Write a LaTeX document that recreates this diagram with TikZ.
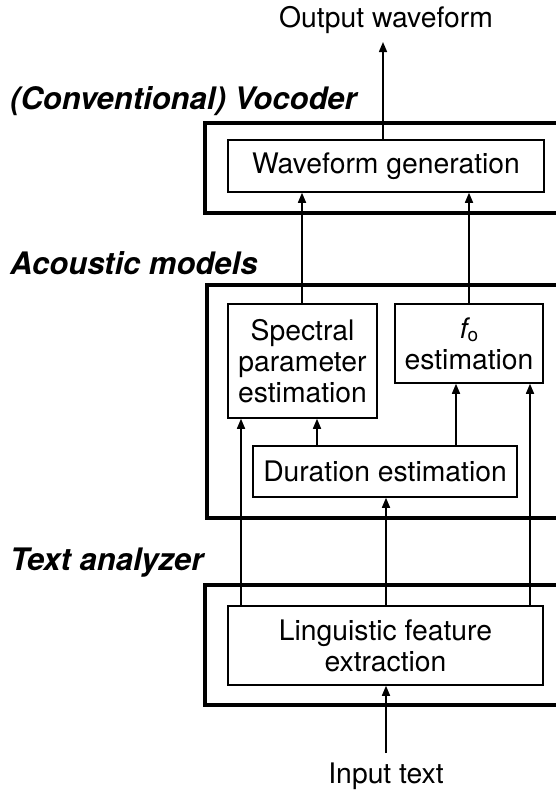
\documentclass[tikz,border=0pt]{standalone}
\usepackage{fontspec}
\setmainfont{TeX Gyre Heros}
\usetikzlibrary{arrows.meta}
\begin{document}
\begin{tikzpicture}[x=1pt,y=-1pt,
  box/.style={draw, line width=1.5pt, inner sep=0pt, align=center,
    font=\fontsize{28.3}{31}\selectfont},
  frame/.style={line width=3.2pt, line join=miter},
  arr/.style={line width=1.5pt, -{Triangle[length=10pt,width=8pt]}},
  title/.style={anchor=west, inner sep=0pt,
    font=\fontsize{31}{36}\selectfont\bfseries\itshape},
  lbl/.style={inner sep=0pt, font=\fontsize{28.3}{33}\selectfont}]
\useasboundingbox (0,0) rectangle (555,793);

% group frames, open on the right
\draw[frame] (556,123) -- (205,123) -- (205,213) -- (556,213);
\draw[frame] (556,285) -- (207,285) -- (207,518) -- (556,518);
\draw[frame] (556,585) -- (205,585) -- (205,705) -- (556,705);

% group titles
\node[title] (tvoc) at (10,101) {(Conventional) Vocoder};
\node[title] (tac)  at (10,263) {Acoustic models};
\node[title] (tta)  at (10,563) {Text analyzer};

% processing blocks
\node[box, minimum width=316pt, minimum height=52pt] (wave) at (386,166) {Waveform generation};
\node[box, minimum width=149pt, minimum height=114pt] (spec) at (302.5,361) {Spectral\\parameter\\estimation};
\node[box, minimum width=148pt, minimum height=79pt] (fo) at (469,343.5)
  {{\itshape f}\raisebox{-0.25ex}{\fontsize{19}{19}\selectfont o}\\estimation};
\node[box, minimum width=264pt, minimum height=51pt] (dur) at (385,471.5) {Duration estimation};
\node[box, minimum width=315pt, minimum height=79pt] (ling) at (385.5,645.5) {Linguistic feature\\extraction};

% input and output labels
\node[lbl] (out) at (386,20) {Output waveform};
\node[lbl] (in)  at (386,776) {Input text};
\coordinate (inbase) at (386,753);
\coordinate (outtip) at (383,42);

% connector columns
\coordinate (c1) at (241,0);
\coordinate (c2) at (317,0);
\coordinate (c3) at (386,0);
\coordinate (c4) at (456,0);
\coordinate (c5) at (530,0);
\coordinate (c6) at (302,0);
\coordinate (c7) at (469,0);
\coordinate (c8) at (383,0);

\draw[arr] (inbase) -- (inbase |- ling.south);
\draw[arr] (c8 |- wave.north) -- (outtip);

\draw[arr] (c1 |- ling.north) -- (c1 |- spec.south);
\draw[arr] (c3 |- ling.north) -- (c3 |- dur.south);
\draw[arr] (c5 |- ling.north) -- (c5 |- fo.south);
\draw[arr] (c2 |- dur.north) -- (c2 |- spec.south);
\draw[arr] (c4 |- dur.north) -- (c4 |- fo.south);
\draw[arr] (c6 |- spec.north) -- (c6 |- wave.south);
\draw[arr] (c7 |- fo.north) -- (c7 |- wave.south);
\end{tikzpicture}
\end{document}
